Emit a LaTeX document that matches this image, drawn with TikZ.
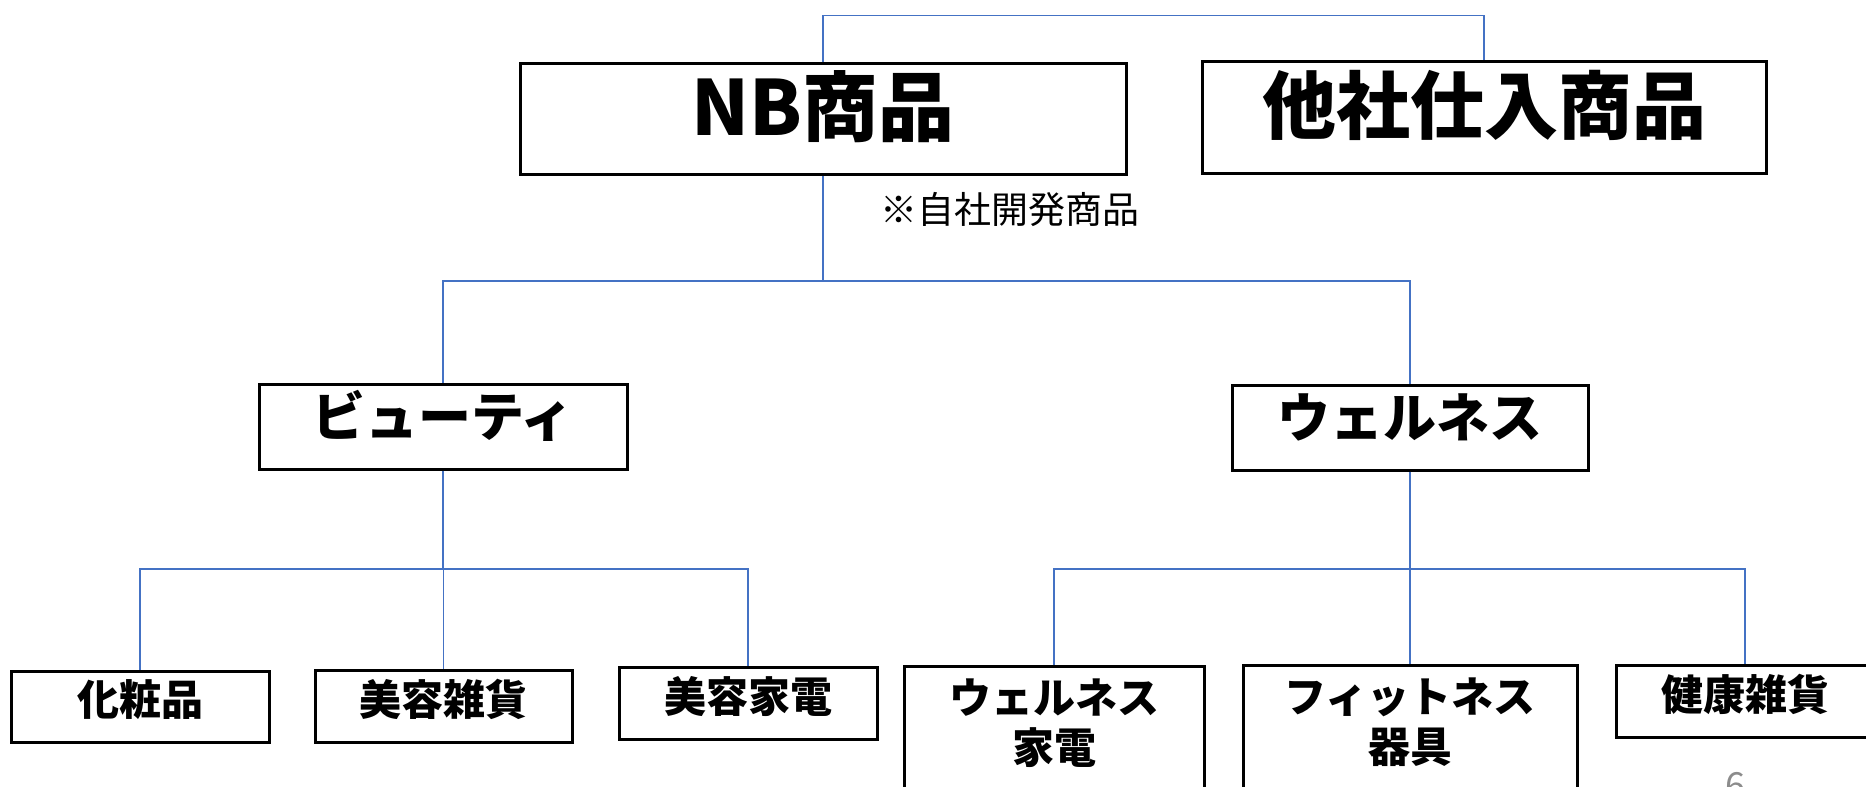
\documentclass[tikz,border=0pt]{standalone}
\usepackage{fontspec}
\setmainfont{Noto Sans CJK JP}
\definecolor{conn}{HTML}{4472C4}
\definecolor{pagenum}{HTML}{8C8C8C}
\begin{document}
\begin{tikzpicture}[x=0.5pt,y=-0.5pt,
  box/.style={draw=black,line width=1.5pt,fill=white,inner sep=0pt,align=center,font=\bfseries},
  bigbox/.style={box,text height=19.5pt,text depth=3.5pt,font=\fontsize{37pt}{44pt}\selectfont\bfseries},
  midbox/.style={box,text height=12.3pt,text depth=2.5pt,font=\fontsize{26.5pt}{31pt}\selectfont\bfseries},
  smallbox/.style={box,font=\fontsize{21pt}{25pt}\selectfont\bfseries},
  oneline/.style={text height=11pt,text depth=1.8pt},
  twoline/.style={text depth=7pt},
  link/.style={draw=conn,line width=0.8pt}]
\useasboundingbox (0,0) rectangle (1866,786);
\clip (0,0) rectangle (1866,786);
% level 1
\node[bigbox,font=\fontsize{38pt}{44pt}\selectfont\bfseries,minimum width=303pt,minimum height=55.5pt] (nb) at (823,119.5) {NB商品};
\node[bigbox,minimum width=282pt,minimum height=56pt] (tasha) at (1484,118) {他社仕入商品};
\node[inner sep=0pt,font=\fontsize{18.5pt}{22pt}\selectfont] (note) at (1010,209) {※自社開発商品};
% level 2
\node[midbox,minimum width=184pt,minimum height=42.5pt] (beauty) at (443,426.5) {ビューティ};
\node[midbox,minimum width=178pt,minimum height=42.5pt] (well) at (1410,427.5) {ウェルネス};
% level 3
\node[smallbox,oneline,minimum width=129pt,minimum height=35.5pt] (kesho) at (140,706.5) {化粧品};
\node[smallbox,oneline,minimum width=128.5pt,minimum height=36pt] (bzakka) at (443.5,706) {美容雑貨};
\node[smallbox,oneline,minimum width=129pt,minimum height=36pt] (bkaden) at (748,703) {美容家電};
\node[smallbox,twoline,minimum width=150pt,minimum height=62pt] (wkaden) at (1054,728) {ウェルネス\\家電};
\node[smallbox,twoline,minimum width=167pt,minimum height=62.5pt] (fit) at (1410,727.5) {フィットネス\\器具};
\node[smallbox,oneline,minimum width=129pt,minimum height=36pt] (kenko) at (1745,701) {健康雑貨};
\node[anchor=north,inner sep=0pt,text=pagenum,font=\fontsize{18pt}{22pt}\selectfont] (pg) at (1735,772) {6};
% connectors
\coordinate (ytop) at (0,15.5);
\coordinate (ymid) at (0,281);
\coordinate (ylow) at (0,569);
\draw[link] (nb.north) |- (tasha.north |- ytop) -- (tasha.north);
\draw[link] (nb.south) -- (nb.south |- ymid);
\draw[link] (beauty.north) |- (nb.south |- ymid) -| (well.north);
\draw[link] (beauty.south) -- (beauty.south |- ylow);
\draw[link] (kesho.north) |- (beauty.south |- ylow) -| (bkaden.north);
\draw[link] (bzakka.north) -- (bzakka.north |- ylow);
\draw[link] (well.south) -- (well.south |- ylow);
\draw[link] (wkaden.north) |- (well.south |- ylow) -| (kenko.north);
\draw[link] (fit.north) -- (fit.north |- ylow);
\end{tikzpicture}
\end{document}
